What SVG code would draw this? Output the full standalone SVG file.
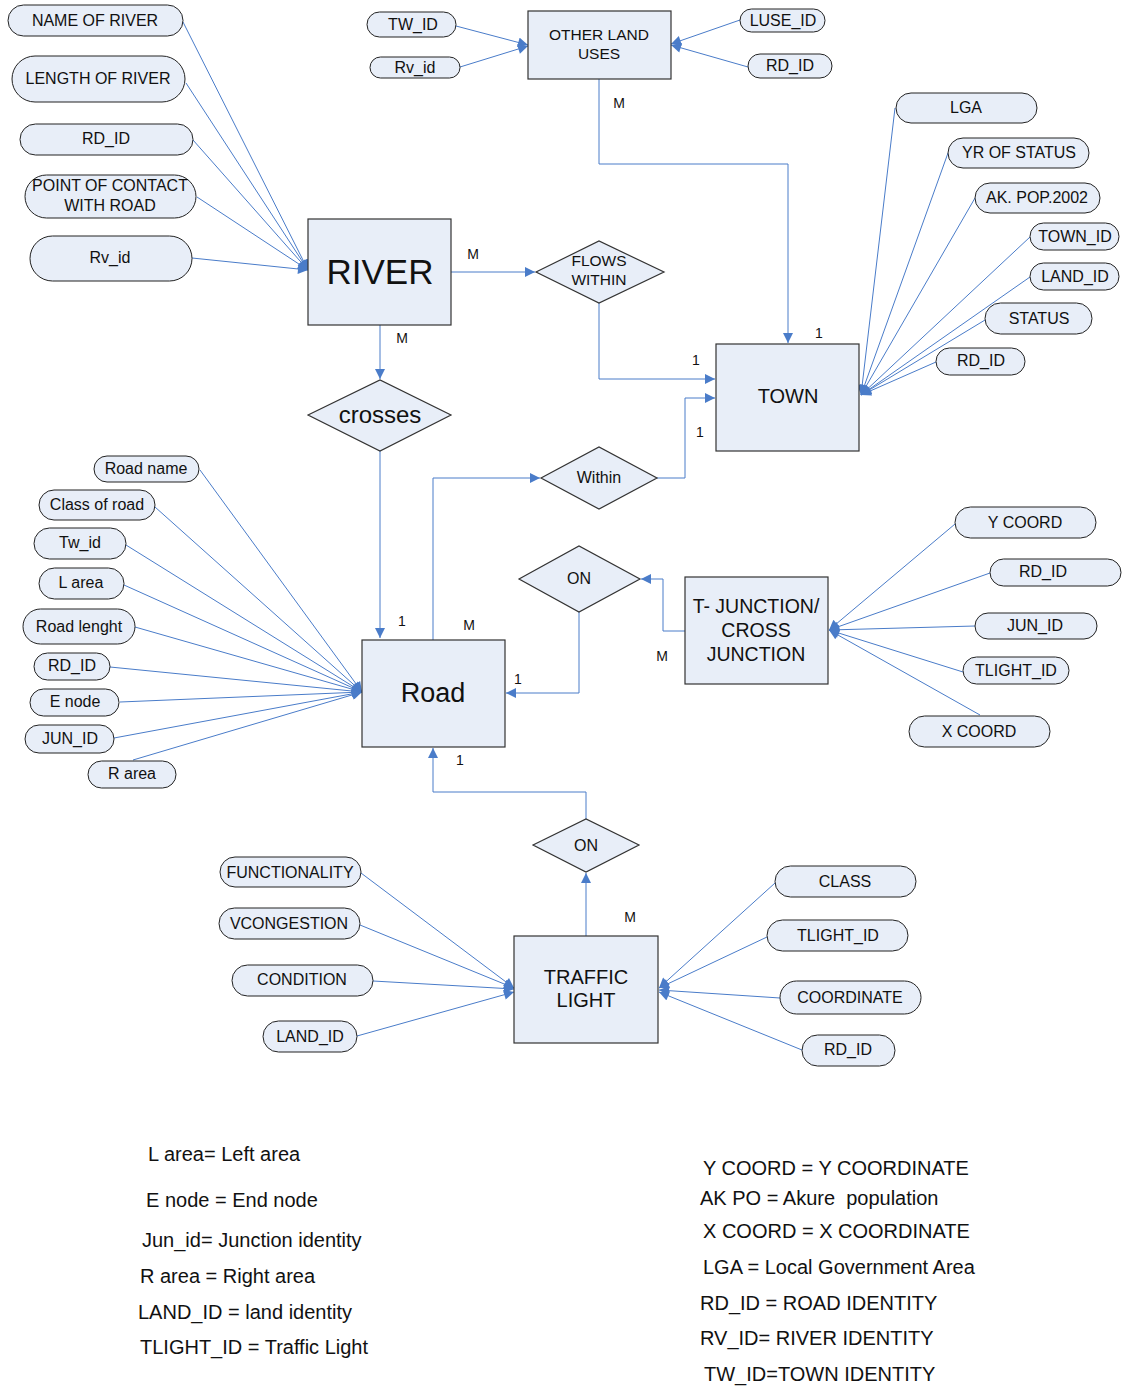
<svg xmlns="http://www.w3.org/2000/svg" width="1125" height="1387" viewBox="0 0 1125 1387">
<style>
.at{fill:#e8eef8;stroke:#222;stroke-width:1}
.en{fill:#e8eef8;stroke:#333;stroke-width:1.2}
.ln{fill:none;stroke:#4a7cc9;stroke-width:1}
.t{font-family:"Liberation Sans",Arial,sans-serif;font-size:16px;fill:#111;text-anchor:middle}
.lb{font-family:"Liberation Sans",Arial,sans-serif;font-size:14px;fill:#111;text-anchor:middle}
.lg{font-family:"Liberation Sans",Arial,sans-serif;font-size:20px;fill:#111}
</style>
<defs>
<marker id="a" viewBox="0 0 10 10" refX="10" refY="5" markerWidth="11" markerHeight="10" markerUnits="userSpaceOnUse" orient="auto"><path d="M0,0 L10,5 L0,10 z" fill="#4a7cc9"/></marker>
</defs>
<rect width="1125" height="1387" fill="#fff"/>
<g id="connectors">
<line class="ln" x1="183" y1="22" x2="308" y2="270" marker-end="url(#a)"/>
<line class="ln" x1="186" y1="83" x2="308" y2="270" marker-end="url(#a)"/>
<line class="ln" x1="193" y1="140" x2="308" y2="270" marker-end="url(#a)"/>
<line class="ln" x1="197" y1="197" x2="308" y2="270" marker-end="url(#a)"/>
<line class="ln" x1="192" y1="258" x2="308" y2="270" marker-end="url(#a)"/>
<line class="ln" x1="456" y1="26" x2="528" y2="45" marker-end="url(#a)"/>
<line class="ln" x1="460" y1="67" x2="528" y2="46" marker-end="url(#a)"/>
<line class="ln" x1="740" y1="20" x2="671" y2="44" marker-end="url(#a)"/>
<line class="ln" x1="748" y1="67" x2="671" y2="45" marker-end="url(#a)"/>
<path class="ln" d="M599,79 V164 H788 V343" marker-end="url(#a)"/>
<line class="ln" x1="895" y1="108" x2="861" y2="395" marker-end="url(#a)"/>
<line class="ln" x1="948" y1="153" x2="861" y2="395" marker-end="url(#a)"/>
<line class="ln" x1="975" y1="198" x2="861" y2="395" marker-end="url(#a)"/>
<line class="ln" x1="1030" y1="237" x2="861" y2="395" marker-end="url(#a)"/>
<line class="ln" x1="1030" y1="277" x2="861" y2="395" marker-end="url(#a)"/>
<line class="ln" x1="985" y1="320" x2="861" y2="395" marker-end="url(#a)"/>
<line class="ln" x1="936" y1="362" x2="861" y2="395" marker-end="url(#a)"/>
<line class="ln" x1="451" y1="272" x2="535" y2="272" marker-end="url(#a)"/>
<path class="ln" d="M599,303 V379 H715" marker-end="url(#a)"/>
<line class="ln" x1="380" y1="325" x2="380" y2="379" marker-end="url(#a)"/>
<line class="ln" x1="380" y1="451" x2="380" y2="638" marker-end="url(#a)"/>
<path class="ln" d="M433,640 V478 H540" marker-end="url(#a)"/>
<path class="ln" d="M657,478 H685 V398 H715" marker-end="url(#a)"/>
<path class="ln" d="M685,631 H663 V579 H641" marker-end="url(#a)"/>
<path class="ln" d="M579,612 V693 H506" marker-end="url(#a)"/>
<line class="ln" x1="586" y1="936" x2="586" y2="873" marker-end="url(#a)"/>
<path class="ln" d="M586,819 V792 H433 V748" marker-end="url(#a)"/>
<line class="ln" x1="200" y1="470" x2="362" y2="692" marker-end="url(#a)"/>
<line class="ln" x1="155" y1="507" x2="362" y2="692" marker-end="url(#a)"/>
<line class="ln" x1="126" y1="545" x2="362" y2="692" marker-end="url(#a)"/>
<line class="ln" x1="124" y1="585" x2="362" y2="692" marker-end="url(#a)"/>
<line class="ln" x1="135" y1="627" x2="362" y2="692" marker-end="url(#a)"/>
<line class="ln" x1="110" y1="667" x2="362" y2="692" marker-end="url(#a)"/>
<line class="ln" x1="120" y1="702" x2="362" y2="692" marker-end="url(#a)"/>
<line class="ln" x1="114" y1="738" x2="362" y2="692" marker-end="url(#a)"/>
<line class="ln" x1="133" y1="760" x2="362" y2="692" marker-end="url(#a)"/>
<line class="ln" x1="955" y1="524" x2="829" y2="630" marker-end="url(#a)"/>
<line class="ln" x1="990" y1="573" x2="829" y2="630" marker-end="url(#a)"/>
<line class="ln" x1="975" y1="626" x2="829" y2="630" marker-end="url(#a)"/>
<line class="ln" x1="963" y1="672" x2="829" y2="630" marker-end="url(#a)"/>
<line class="ln" x1="980" y1="715" x2="829" y2="630" marker-end="url(#a)"/>
<line class="ln" x1="361" y1="873" x2="514" y2="988" marker-end="url(#a)"/>
<line class="ln" x1="360" y1="925" x2="514" y2="988" marker-end="url(#a)"/>
<line class="ln" x1="373" y1="981" x2="514" y2="989" marker-end="url(#a)"/>
<line class="ln" x1="357" y1="1036" x2="514" y2="992" marker-end="url(#a)"/>
<line class="ln" x1="775" y1="883" x2="659" y2="988" marker-end="url(#a)"/>
<line class="ln" x1="767" y1="937" x2="659" y2="988" marker-end="url(#a)"/>
<line class="ln" x1="780" y1="998" x2="659" y2="990" marker-end="url(#a)"/>
<line class="ln" x1="802" y1="1050" x2="659" y2="992" marker-end="url(#a)"/>
</g>
<g id="cardinalities">
<text class="lb" x="473" y="259">M</text>
<text class="lb" x="402" y="343">M</text>
<text class="lb" x="619" y="108">M</text>
<text class="lb" x="819" y="338">1</text>
<text class="lb" x="696" y="365">1</text>
<text class="lb" x="700" y="437">1</text>
<text class="lb" x="402" y="626">1</text>
<text class="lb" x="469" y="630">M</text>
<text class="lb" x="518" y="684">1</text>
<text class="lb" x="662" y="661">M</text>
<text class="lb" x="460" y="765">1</text>
<text class="lb" x="630" y="922">M</text>
</g>
<g id="river"><rect class="en" x="308" y="219" width="143" height="106"/><text class="t" x="380" y="284" style="font-size:35px">RIVER</text></g>
<g id="other-land-uses"><rect class="en" x="528" y="11" width="143" height="68"/><text class="t" x="599" y="40" style="font-size:15.5px">OTHER LAND</text><text class="t" x="599" y="59" style="font-size:15.5px">USES</text></g>
<g id="town"><rect class="en" x="716" y="344" width="143" height="107"/><text class="t" x="788" y="403" style="font-size:20px">TOWN</text></g>
<g id="road"><rect class="en" x="362" y="640" width="143" height="107"/><text class="t" x="433" y="702" style="font-size:27px">Road</text></g>
<g id="junction"><rect class="en" x="685" y="577" width="143" height="107"/><text class="t" x="756" y="613" style="font-size:19.5px">T- JUNCTION/</text><text class="t" x="756" y="637" style="font-size:19.5px">CROSS</text><text class="t" x="756" y="661" style="font-size:19.5px">JUNCTION</text></g>
<g id="traffic-light"><rect class="en" x="514" y="936" width="144" height="107"/><text class="t" x="586" y="984" style="font-size:20px">TRAFFIC</text><text class="t" x="586" y="1007" style="font-size:20px">LIGHT</text></g>
<g id="flows-within"><polygon class="en" points="536,272 599,241 664,272 599,303"/><text class="t" x="599" y="266" style="font-size:15.5px">FLOWS</text><text class="t" x="599" y="285" style="font-size:15.5px">WITHIN</text></g>
<g id="crosses"><polygon class="en" points="308,415 380,380 451,415 380,451"/><text class="t" x="380" y="423" style="font-size:24px">crosses</text></g>
<g id="within"><polygon class="en" points="541,478 599,447 657,478 599,509"/><text class="t" x="599" y="483" style="font-size:16px">Within</text></g>
<g id="on-junction"><polygon class="en" points="519,579 579,546 640,579 579,612"/><text class="t" x="579" y="584" style="font-size:16px">ON</text></g>
<g id="on-traffic"><polygon class="en" points="533,845 586,819 639,845 586,872"/><text class="t" x="586" y="851" style="font-size:16px">ON</text></g>
<g id="name-of-river"><rect class="at" x="8" y="5" width="175" height="31" rx="15.5"/><text class="t" x="95" y="26">NAME OF RIVER</text></g>
<g id="length-of-river"><rect class="at" x="12" y="56" width="173" height="46" rx="23"/><text class="t" x="98" y="84">LENGTH OF RIVER</text></g>
<g id="river-rd-id"><rect class="at" x="20" y="124" width="173" height="31" rx="15.5"/><text class="t" x="106" y="144">RD_ID</text></g>
<g id="point-of-contact"><rect class="at" x="25" y="175" width="171" height="43" rx="21.5"/><text class="t" x="110" y="191">POINT OF CONTACT</text><text class="t" x="110" y="211">WITH ROAD</text></g>
<g id="river-rv-id"><rect class="at" x="30" y="236" width="162" height="45" rx="22.5"/><text class="t" x="110" y="263">Rv_id</text></g>
<g id="olu-tw-id"><rect class="at" x="367" y="12" width="89" height="25" rx="12.5"/><text class="t" x="413" y="30">TW_ID</text></g>
<g id="olu-rv-id"><rect class="at" x="370" y="57" width="90" height="21" rx="10.5"/><text class="t" x="415" y="73">Rv_id</text></g>
<g id="luse-id"><rect class="at" x="740" y="9" width="85" height="23" rx="11.5"/><text class="t" x="783" y="26">LUSE_ID</text></g>
<g id="olu-rd-id"><rect class="at" x="748" y="54" width="84" height="24" rx="12"/><text class="t" x="790" y="71">RD_ID</text></g>
<g id="lga"><rect class="at" x="896" y="93" width="141" height="30" rx="15"/><text class="t" x="966" y="113">LGA</text></g>
<g id="yr-of-status"><rect class="at" x="948" y="138" width="141" height="30" rx="15"/><text class="t" x="1019" y="158">YR OF STATUS</text></g>
<g id="ak-pop"><rect class="at" x="975" y="183" width="125" height="30" rx="15"/><text class="t" x="1037" y="203">AK. POP.2002</text></g>
<g id="town-id"><rect class="at" x="1030" y="223" width="89" height="27" rx="13.5"/><text class="t" x="1075" y="242">TOWN_ID</text></g>
<g id="town-land-id"><rect class="at" x="1030" y="263" width="89" height="27" rx="13.5"/><text class="t" x="1075" y="282">LAND_ID</text></g>
<g id="status"><rect class="at" x="985" y="303" width="107" height="31" rx="15.5"/><text class="t" x="1039" y="324">STATUS</text></g>
<g id="town-rd-id"><rect class="at" x="936" y="348" width="89" height="27" rx="13.5"/><text class="t" x="981" y="366">RD_ID</text></g>
<g id="road-name"><rect class="at" x="94" y="456" width="105" height="26" rx="13"/><text class="t" x="146" y="474">Road name</text></g>
<g id="class-of-road"><rect class="at" x="39" y="490" width="116" height="30" rx="15"/><text class="t" x="97" y="510">Class of road</text></g>
<g id="tw-id"><rect class="at" x="34" y="528" width="92" height="31" rx="15.5"/><text class="t" x="80" y="548">Tw_id</text></g>
<g id="l-area"><rect class="at" x="39" y="568" width="85" height="31" rx="15.5"/><text class="t" x="81" y="588">L area</text></g>
<g id="road-lenght"><rect class="at" x="23" y="609" width="112" height="35" rx="17.5"/><text class="t" x="79" y="632">Road lenght</text></g>
<g id="road-rd-id"><rect class="at" x="34" y="653" width="76" height="27" rx="13.5"/><text class="t" x="72" y="671">RD_ID</text></g>
<g id="e-node"><rect class="at" x="30" y="689" width="89" height="27" rx="13.5"/><text class="t" x="75" y="707">E node</text></g>
<g id="road-jun-id"><rect class="at" x="25" y="725" width="89" height="28" rx="14"/><text class="t" x="70" y="744">JUN_ID</text></g>
<g id="r-area"><rect class="at" x="88" y="761" width="88" height="27" rx="13.5"/><text class="t" x="132" y="779">R area</text></g>
<g id="y-coord"><rect class="at" x="955" y="507" width="141" height="31" rx="15.5"/><text class="t" x="1025" y="528">Y COORD</text></g>
<g id="junc-rd-id"><rect class="at" x="990" y="559" width="131" height="27" rx="13.5"/><text class="t" x="1043" y="577">RD_ID</text></g>
<g id="jun-id"><rect class="at" x="975" y="613" width="122" height="26" rx="13"/><text class="t" x="1035" y="631">JUN_ID</text></g>
<g id="junc-tlight-id"><rect class="at" x="963" y="657" width="106" height="27" rx="13.5"/><text class="t" x="1016" y="676">TLIGHT_ID</text></g>
<g id="x-coord"><rect class="at" x="909" y="716" width="141" height="31" rx="15.5"/><text class="t" x="979" y="737">X COORD</text></g>
<g id="functionality"><rect class="at" x="220" y="857" width="141" height="30" rx="15"/><text class="t" x="290" y="878">FUNCTIONALITY</text></g>
<g id="vcongestion"><rect class="at" x="219" y="908" width="141" height="31" rx="15.5"/><text class="t" x="289" y="929">VCONGESTION</text></g>
<g id="condition"><rect class="at" x="232" y="965" width="141" height="31" rx="15.5"/><text class="t" x="302" y="985">CONDITION</text></g>
<g id="tl-land-id"><rect class="at" x="263" y="1021" width="94" height="31" rx="15.5"/><text class="t" x="310" y="1042">LAND_ID</text></g>
<g id="class"><rect class="at" x="775" y="866" width="141" height="31" rx="15.5"/><text class="t" x="845" y="887">CLASS</text></g>
<g id="tl-tlight-id"><rect class="at" x="767" y="920" width="141" height="31" rx="15.5"/><text class="t" x="838" y="941">TLIGHT_ID</text></g>
<g id="coordinate"><rect class="at" x="780" y="981" width="141" height="33" rx="16.5"/><text class="t" x="850" y="1003">COORDINATE</text></g>
<g id="tl-rd-id"><rect class="at" x="802" y="1035" width="93" height="31" rx="15.5"/><text class="t" x="848" y="1055">RD_ID</text></g>
<g id="legend">
<text class="lg" x="148" y="1161">L area= Left area</text>
<text class="lg" x="146" y="1207">E node = End node</text>
<text class="lg" x="142" y="1247">Jun_id= Junction identity</text>
<text class="lg" x="140" y="1283">R area = Right area</text>
<text class="lg" x="138" y="1319">LAND_ID = land identity</text>
<text class="lg" x="140" y="1354">TLIGHT_ID = Traffic Light</text>
<text class="lg" x="703" y="1175">Y COORD = Y COORDINATE</text>
<text class="lg" x="700" y="1205" xml:space="preserve">AK PO = Akure  population</text>
<text class="lg" x="703" y="1238">X COORD = X COORDINATE</text>
<text class="lg" x="703" y="1274">LGA = Local Government Area</text>
<text class="lg" x="700" y="1310">RD_ID = ROAD IDENTITY</text>
<text class="lg" x="700" y="1345">RV_ID= RIVER IDENTITY</text>
<text class="lg" x="704" y="1381">TW_ID=TOWN IDENTITY</text>
</g>
</svg>
